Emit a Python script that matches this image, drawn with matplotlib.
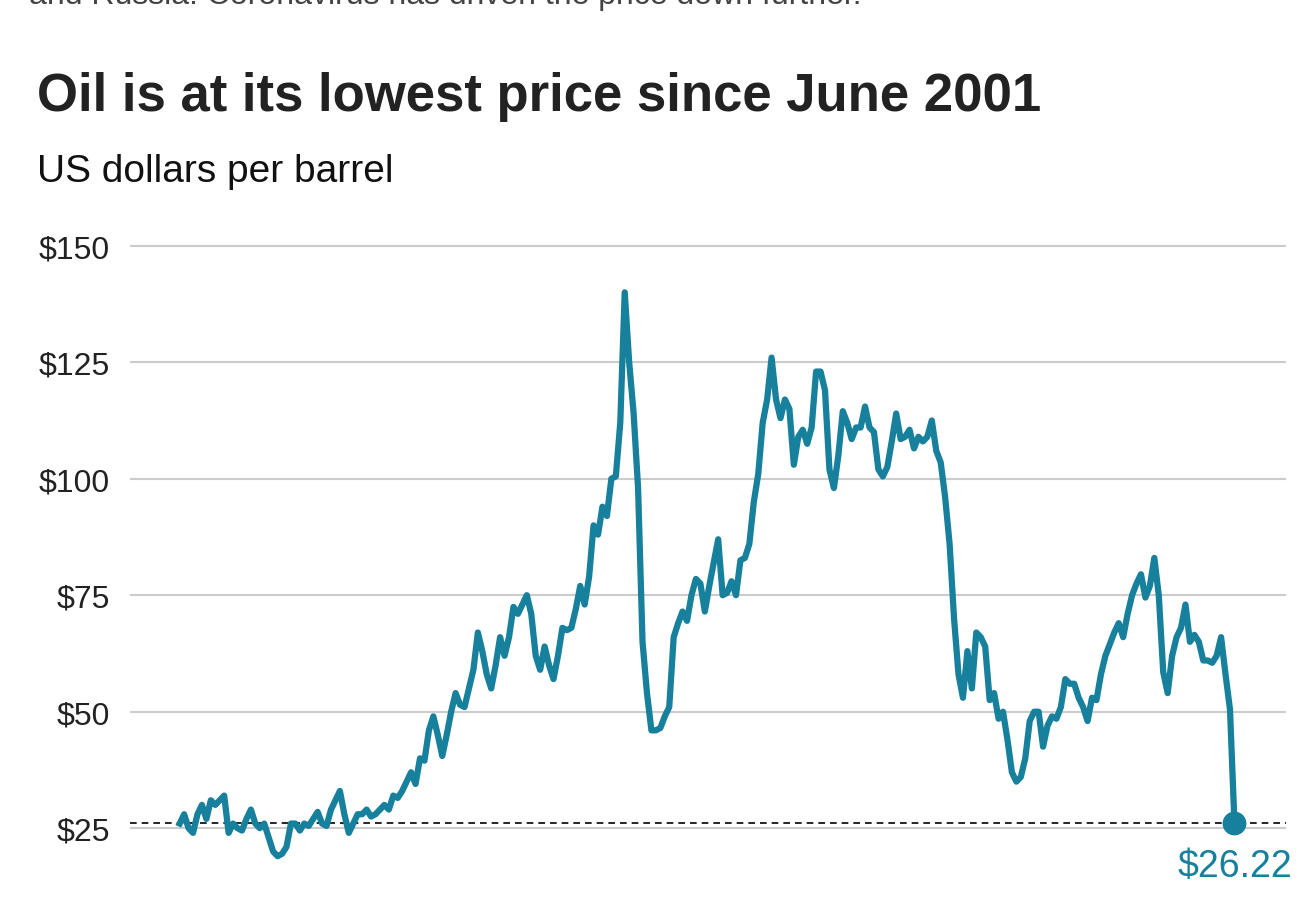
import numpy as np
import matplotlib.pyplot as plt

plt.rcParams['font.family'] = ['Liberation Sans', 'DejaVu Sans']

# monthly oil price, Jan 2000 .. Mar 2020
p2000 = [26, 28, 25, 24, 28, 30, 27, 31, 30, 31, 32, 24]
p2001 = [26, 25, 24.5, 27, 29, 26, 25, 26, 23, 20, 19, 19.5]
p2002 = [21, 26, 26, 24.5, 26, 25.5, 27, 28.5, 26, 25.5, 29, 31]
p2003 = [33, 28, 24, 26, 28, 28, 29, 27.5, 28, 29, 30, 29]
p2004 = [32, 31.5, 33, 35, 37, 34.5, 40, 39.5, 46, 49, 45, 40.5]
p2005 = [45, 50, 54, 51.5, 51, 55, 59, 67, 63, 58, 55, 60]
p2006 = [66, 62, 66, 72.5, 71, 73, 75, 71, 62, 59, 64, 60]
p2007 = [57, 62, 68, 67.5, 68, 72, 77, 73, 79, 90, 88, 94]
p2008 = [92, 100, 100.5, 112, 140, 125, 114, 98, 65, 54, 46]
p2009 = [46, 46.5, 49, 51, 66, 69, 71.5, 69.5, 75, 78.5, 77.5, 71.5]
p2010 = [77, 82, 87, 75, 75.5, 78, 75, 82.5, 83, 86, 95, 101]
p2011 = [112, 117, 126, 117, 113, 117, 115, 103, 109, 110.5, 107.5, 111]
p2012 = [123, 123, 119, 102, 98, 105, 114.5, 112, 108.5, 111, 111, 115.5]
p2013 = [111, 110, 102, 100.5, 102.5, 108, 114, 108.5, 109, 110.5, 106.5, 109]
p2014 = [108, 109, 112.5, 106, 103.5, 96, 86, 70, 58, 53, 63, 55]
p2015 = [67, 66, 64, 52.5, 54, 48.5, 50, 44, 37, 35, 36, 40]
p2016 = [48, 50, 50, 42.5, 47, 49, 48.5, 51, 57, 56, 56, 53]
p2017 = [51, 48, 53, 52.5, 58, 62, 64.5, 67, 69, 66, 71, 75]
p2018 = [77.5, 79.5, 74.5, 77, 83, 75, 58.5, 54, 62, 66, 68, 73]
p2019 = [65, 66.5, 65, 61, 61, 60.5, 62, 66, 58, 50.5]
last_price = 26.22

prices = (p2000 + p2001 + p2002 + p2003 + p2004 + p2005 + p2006 + p2007 + p2008
          + p2009 + p2010 + p2011 + p2012 + p2013 + p2014 + p2015 + p2016
          + p2017 + p2018 + p2019 + [last_price])
yticks = [25, 50, 75, 100, 125, 150]
ytick_labels = ['$25', '$50', '$75', '$100', '$125', '$150']

teal = '#17809c'
x = np.arange(len(prices))
n = len(prices) - 1

fig = plt.figure(figsize=(13.1, 9.12), dpi=100)
ax = fig.add_axes([0.099, 0.055, 0.883, 0.70])

ax.plot(x, prices, color=teal, lw=4.5, solid_joinstyle='round', zorder=3)
ax.scatter([n], [last_price], s=260, color=teal, zorder=4)
ax.axhline(last_price, color='black', lw=1.2, ls=(0, (4, 3)), zorder=2)

ppu = 1055 / n
ax.set_xlim(-50 / ppu, n + 52 / ppu)
ax.set_ylim(18, 155)
ax.set_yticks(yticks)
ax.set_yticklabels(ytick_labels, fontsize=23, color='#222222')
ax.set_xticks([])
ax.tick_params(axis='y', length=0, pad=14)
ax.grid(axis='y', color='#cccccc', lw=1.5)
ax.set_axisbelow(True)
for s in ax.spines.values():
    s.set_visible(False)

ax.text(n, last_price - 5.5, '$26.22', color=teal, fontsize=27,
        ha='center', va='top')

fig.text(0.028, 0.894, 'Oil is at its lowest price since June 2001',
         fontsize=38, fontweight='bold', color='#222222', va='center')
fig.text(0.028, 0.811, 'US dollars per barrel', fontsize=28,
         color='#111111', va='center')
fig.text(0.022, 1.004, 'and Russia. Coronavirus has driven the price down further.',
         fontsize=23, color='#444444', va='center')

fig.savefig('out.png', dpi=100)
